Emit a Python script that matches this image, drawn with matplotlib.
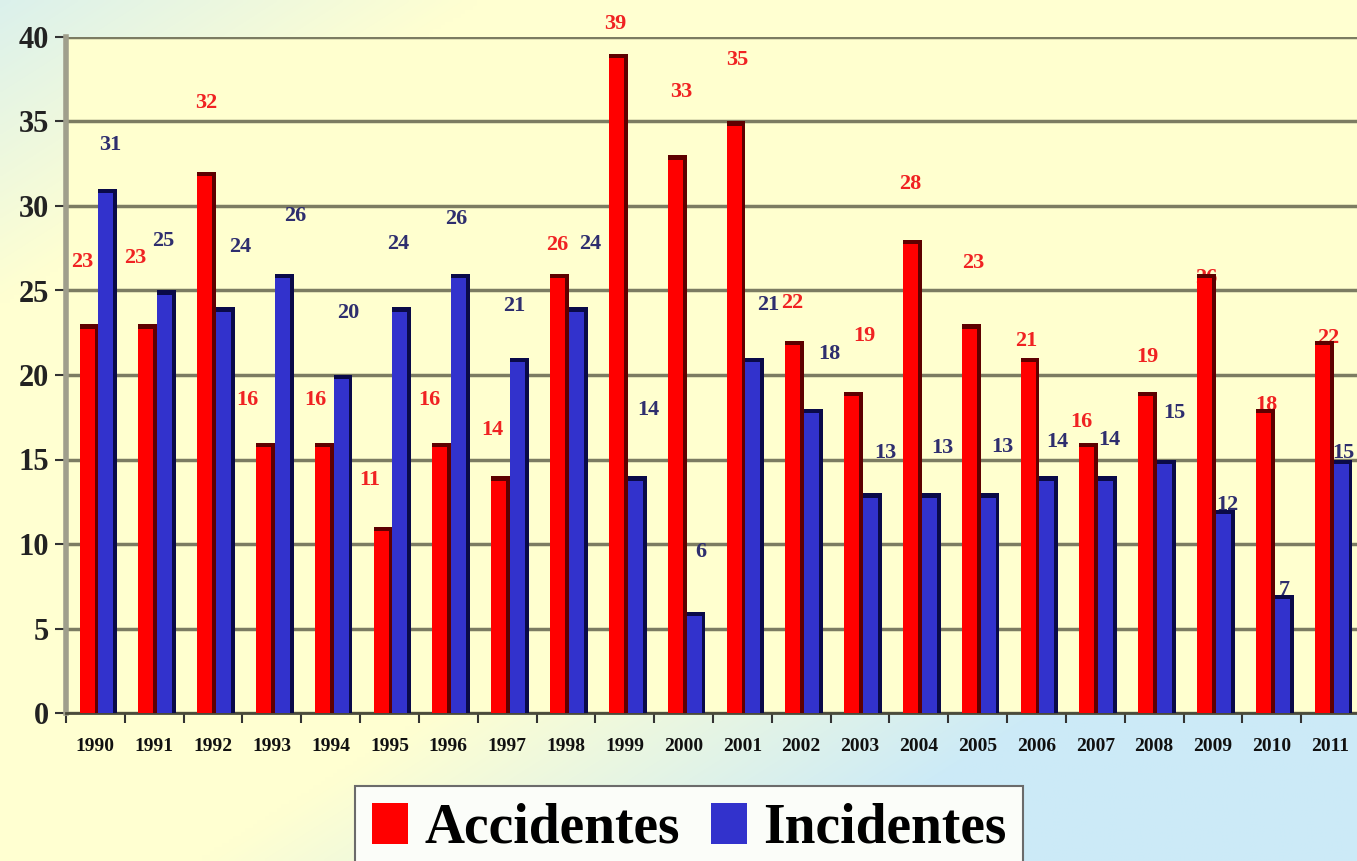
import numpy as np
import matplotlib.pyplot as plt
from matplotlib.patches import Patch

# Accidentes / incidentes por año
years = ['1990', '1991', '1992', '1993', '1994', '1995', '1996', '1997', '1998', '1999', '2000',
         '2001', '2002', '2003', '2004', '2005', '2006', '2007', '2008', '2009', '2010', '2011']
accidentes = [23, 23, 32, 16, 16, 11, 16, 14, 26, 39, 33, 35, 22, 19, 28, 23, 21, 16, 19, 26, 18, 22]
incidentes = [31, 25, 24, 26, 20, 24, 26, 21, 24, 14, 6, 21, 18, 13, 13, 13, 14, 14, 15, 12, 7, 15]

# desplazamiento de las etiquetas (pixeles) respecto a la parte superior de cada barra
red_dx = [-7, -13, 0, -18, -9, -13, -12, -8, -2, -3, 4, 1, -3, 11, -2, 2, -4, -7, 0, 0, 1, 4]
red_dy = [62, 66, 69, 43, 43, 47, 43, 46, 29, 30, 63, 61, 38, 56, 56, 61, 17, 21, 35, -4, 4, 3]
blue_dx = [2, -3, 15, 11, 5, -4, -4, -5, 12, 11, 5, 13, 16, 13, 11, 12, 8, 2, 8, 2, 0, 0]
blue_dy = [44, 50, 60, 58, 62, 63, 55, 52, 63, 66, 60, 53, 55, 40, 45, 46, 34, 36, 47, 5, 5, 6]

plt.rcParams['font.family'] = ['Liberation Serif', 'DejaVu Serif']
plt.rcParams['font.weight'] = 'bold'

fig = plt.figure(figsize=(13.57, 8.61), dpi=100)

# fondo degradado amarillo -> celeste
bg = fig.add_axes([0, 0, 1, 1], zorder=-10)
u = np.linspace(0, 1, 340)[None, :]
v = np.linspace(0, 1, 220)[:, None]
w_bot = np.clip((u + v - 1.15) / 0.45, 0, 1)
w_top = np.clip((0.35 - (u + v)) / 0.35, 0, 1) * 0.7
w = np.maximum(w_bot, w_top)[..., None]
yellow = np.array([1.0, 1.0, 0.82])
blue = np.array([0.80, 0.92, 0.97])
bg.imshow(yellow * (1 - w) + blue * w, aspect='auto', extent=[0, 1, 0, 1],
          origin='upper', interpolation='bilinear')
bg.axis('off')

ax = fig.add_axes([66 / 1357, 148 / 861, 1294 / 1357, 676 / 861])
ax.set_facecolor('#FFFFCF')

x = np.arange(len(years))
bw = 0.32
red_x = x - 0.11
blue_x = x + 0.21

# barras con borde oscuro a la derecha (efecto 3D)
ax.bar(red_x, accidentes, bw, color='#5E0000', zorder=3)
ax.bar(red_x - bw * 0.1, np.array(accidentes) - 0.25, bw * 0.8, color='#FF0000', zorder=4)
ax.bar(blue_x, incidentes, bw, color='#0A0A48', zorder=3)
ax.bar(blue_x - bw * 0.1, np.array(incidentes) - 0.25, bw * 0.8, color='#3232CC', zorder=4)

for i in range(len(years)):
    ax.annotate(str(accidentes[i]), (red_x[i], accidentes[i]), xytext=(red_dx[i], red_dy[i]),
                textcoords='offset pixels', ha='center', va='center', color='#F02222',
                fontsize=16, fontweight='bold', zorder=2, annotation_clip=False)
    ax.annotate(str(incidentes[i]), (blue_x[i], incidentes[i]), xytext=(blue_dx[i], blue_dy[i]),
                textcoords='offset pixels', ha='center', va='center', color='#2E2E6E',
                fontsize=16, fontweight='bold', zorder=2, annotation_clip=False)

ax.set_xlim(-0.5, len(years) - 0.5)
ax.set_ylim(0, 40)
ax.set_yticks(range(0, 41, 5))
ax.set_xticks(np.arange(-0.5, len(years), 1))
ax.set_xticks(x, minor=True)
ax.set_xticklabels(years, minor=True)
ax.tick_params(axis='x', which='major', length=7, width=1.5, color='#333333', labelbottom=False)
ax.tick_params(axis='x', which='minor', length=0, pad=18, labelsize=14, labelcolor='#111111')
ax.tick_params(axis='y', length=8, width=1.5, color='#333333', labelsize=22, pad=4,
               labelcolor='#222222')

ax.yaxis.grid(True, color='#7C7C62', lw=2.5)
ax.set_axisbelow(True)
ax.spines['top'].set_visible(False)
ax.spines['right'].set_visible(False)
ax.spines['left'].set_color('#A09F8C')
ax.spines['left'].set_linewidth(4)
ax.spines['bottom'].set_color('#4A4A3A')
ax.spines['bottom'].set_linewidth(2)

handles = [Patch(facecolor='#FF0000', label='Accidentes'),
           Patch(facecolor='#3232CC', label='Incidentes')]
leg = fig.legend(handles=handles, loc='upper left', bbox_to_anchor=(355 / 1357, 1 - 786 / 861),
                 ncol=2, fontsize=40, frameon=True, fancybox=False, edgecolor='#6B6B6B',
                 facecolor='#FBFDF9', framealpha=1, handlelength=0.65, handleheight=0.75,
                 handletextpad=0.3, columnspacing=0.55, borderpad=0.3, borderaxespad=0)
leg.get_frame().set_linewidth(1.5)

fig.savefig('out.png', dpi=100)
